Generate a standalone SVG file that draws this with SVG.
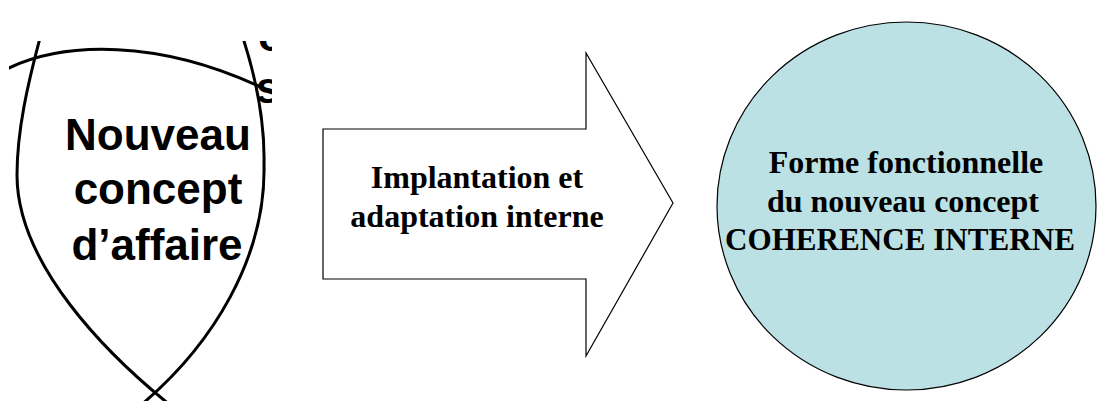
<svg xmlns="http://www.w3.org/2000/svg" width="1097" height="401" viewBox="0 0 1097 401">
  <style>
    .arc { fill: none; stroke: #000; stroke-width: 3; }
    .sans { font-family: "Liberation Sans", Arial, sans-serif; font-weight: bold; font-size: 44px; fill: #000; }
    .serif { font-family: "Liberation Serif", "Times New Roman", serif; font-weight: bold; font-size: 32px; fill: #000; text-anchor: middle; }
    .outline { stroke: #000; stroke-width: 1.2; }
  </style>
  <defs>
    <clipPath id="crop">
      <rect x="9" y="41" width="263" height="360"/>
    </clipPath>
  </defs>
  <rect width="1097" height="401" fill="#fff"/>

  <g id="node-venn" clip-path="url(#crop)">
    <path class="arc" d="M 40,38 C 28,83 17,130 17,175 C 17,265 108,355 170,405"/>
    <path class="arc" d="M 243,38 C 255,75 265,120 264,165 C 266,255 215,345 135,410"/>
    <path class="arc" d="M 5,70 C 60,42 160,36 275,94"/>
    <text class="sans" x="258" y="51">c</text>
    <text class="sans" x="256" y="103">s</text>
    <text class="sans" x="158" y="150" text-anchor="middle">Nouveau</text>
    <text class="sans" x="158" y="204" text-anchor="middle">concept</text>
    <text class="sans" x="157" y="260" text-anchor="middle">d’affaire</text>
  </g>

  <g id="node-arrow">
    <polygon class="outline" fill="#fff" points="323,129 586,129 586,53 673,203 586,356 586,279 323,279"/>
    <text class="serif" x="477" y="188">Implantation et</text>
    <text class="serif" x="477" y="227">adaptation interne</text>
  </g>

  <g id="node-circle">
    <ellipse class="outline" fill="#BCE1E4" cx="906.5" cy="206" rx="189.5" ry="184"/>
    <text class="serif" x="906" y="173">Forme fonctionnelle</text>
    <text class="serif" x="903" y="212">du nouveau concept</text>
    <text class="serif" x="900" y="250" textLength="350" lengthAdjust="spacingAndGlyphs">COHERENCE INTERNE</text>
  </g>

  <g id="connectors"></g>
</svg>
